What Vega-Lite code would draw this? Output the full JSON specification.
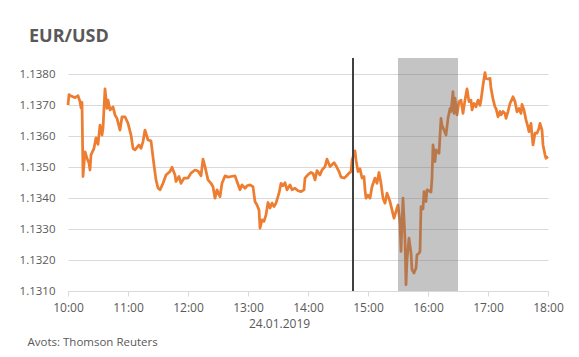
{
  "$schema": "https://vega.github.io/schema/vega-lite/v6.json",
  "width": 480,
  "height": 233,
  "autosize": {"type": "none"},
  "padding": {"left": 68, "top": 58, "right": 31, "bottom": 66},
  "background": "white",
  "config": {
    "font": "Open Sans",
    "view": {"stroke": null},
    "axis": {"labelColor": "#595959", "titleColor": "#595959"}
  },
  "title": {
    "text": "EUR/USD",
    "anchor": "start",
    "frame": "group",
    "dx": -39,
    "dy": 19,
    "offset": 16,
    "baseline": "alphabetic",
    "fontSize": 18,
    "fontWeight": "bold",
    "color": "#595959",
    "font": "Open Sans"
  },
  "datasets": {
    "eurusd": [
      {"time": "2019-01-24T10:00", "rate": 1.13701},
      {"time": "2019-01-24T10:01", "rate": 1.13735},
      {"time": "2019-01-24T10:03", "rate": 1.1373},
      {"time": "2019-01-24T10:07", "rate": 1.13725},
      {"time": "2019-01-24T10:10", "rate": 1.13731},
      {"time": "2019-01-24T10:12", "rate": 1.13712},
      {"time": "2019-01-24T10:13", "rate": 1.13692},
      {"time": "2019-01-24T10:14", "rate": 1.1371},
      {"time": "2019-01-24T10:15", "rate": 1.1347},
      {"time": "2019-01-24T10:17", "rate": 1.1355},
      {"time": "2019-01-24T10:19", "rate": 1.13529},
      {"time": "2019-01-24T10:21", "rate": 1.13513},
      {"time": "2019-01-24T10:22", "rate": 1.13491},
      {"time": "2019-01-24T10:23", "rate": 1.1354},
      {"time": "2019-01-24T10:26", "rate": 1.13561},
      {"time": "2019-01-24T10:28", "rate": 1.13595},
      {"time": "2019-01-24T10:30", "rate": 1.13574},
      {"time": "2019-01-24T10:32", "rate": 1.13636},
      {"time": "2019-01-24T10:34", "rate": 1.13604},
      {"time": "2019-01-24T10:35", "rate": 1.13626},
      {"time": "2019-01-24T10:37", "rate": 1.13753},
      {"time": "2019-01-24T10:39", "rate": 1.1369},
      {"time": "2019-01-24T10:40", "rate": 1.13717},
      {"time": "2019-01-24T10:42", "rate": 1.13685},
      {"time": "2019-01-24T10:45", "rate": 1.13695},
      {"time": "2019-01-24T10:47", "rate": 1.13669},
      {"time": "2019-01-24T10:49", "rate": 1.13658},
      {"time": "2019-01-24T10:52", "rate": 1.1362},
      {"time": "2019-01-24T10:54", "rate": 1.13663},
      {"time": "2019-01-24T10:57", "rate": 1.13663},
      {"time": "2019-01-24T11:00", "rate": 1.13642},
      {"time": "2019-01-24T11:03", "rate": 1.13604},
      {"time": "2019-01-24T11:05", "rate": 1.13561},
      {"time": "2019-01-24T11:07", "rate": 1.13556},
      {"time": "2019-01-24T11:11", "rate": 1.13572},
      {"time": "2019-01-24T11:13", "rate": 1.13561},
      {"time": "2019-01-24T11:15", "rate": 1.13583},
      {"time": "2019-01-24T11:17", "rate": 1.1362},
      {"time": "2019-01-24T11:20", "rate": 1.13588},
      {"time": "2019-01-24T11:23", "rate": 1.13585},
      {"time": "2019-01-24T11:26", "rate": 1.13507},
      {"time": "2019-01-24T11:28", "rate": 1.13459},
      {"time": "2019-01-24T11:30", "rate": 1.13433},
      {"time": "2019-01-24T11:32", "rate": 1.13427},
      {"time": "2019-01-24T11:35", "rate": 1.13448},
      {"time": "2019-01-24T11:38", "rate": 1.13475},
      {"time": "2019-01-24T11:42", "rate": 1.13486},
      {"time": "2019-01-24T11:44", "rate": 1.135},
      {"time": "2019-01-24T11:47", "rate": 1.13475},
      {"time": "2019-01-24T11:48", "rate": 1.13454},
      {"time": "2019-01-24T11:51", "rate": 1.1347},
      {"time": "2019-01-24T11:53", "rate": 1.13448},
      {"time": "2019-01-24T11:56", "rate": 1.13465},
      {"time": "2019-01-24T12:00", "rate": 1.13465},
      {"time": "2019-01-24T12:03", "rate": 1.13481},
      {"time": "2019-01-24T12:07", "rate": 1.13491},
      {"time": "2019-01-24T12:10", "rate": 1.13488},
      {"time": "2019-01-24T12:13", "rate": 1.13472},
      {"time": "2019-01-24T12:15", "rate": 1.13526},
      {"time": "2019-01-24T12:17", "rate": 1.13502},
      {"time": "2019-01-24T12:20", "rate": 1.13459},
      {"time": "2019-01-24T12:23", "rate": 1.13448},
      {"time": "2019-01-24T12:25", "rate": 1.13437},
      {"time": "2019-01-24T12:27", "rate": 1.134},
      {"time": "2019-01-24T12:29", "rate": 1.13427},
      {"time": "2019-01-24T12:32", "rate": 1.13405},
      {"time": "2019-01-24T12:34", "rate": 1.13448},
      {"time": "2019-01-24T12:37", "rate": 1.13472},
      {"time": "2019-01-24T12:40", "rate": 1.13468},
      {"time": "2019-01-24T12:43", "rate": 1.1347},
      {"time": "2019-01-24T12:47", "rate": 1.13472},
      {"time": "2019-01-24T12:49", "rate": 1.13454},
      {"time": "2019-01-24T12:52", "rate": 1.13427},
      {"time": "2019-01-24T12:54", "rate": 1.13443},
      {"time": "2019-01-24T12:57", "rate": 1.13432},
      {"time": "2019-01-24T12:59", "rate": 1.1344},
      {"time": "2019-01-24T13:02", "rate": 1.13443},
      {"time": "2019-01-24T13:05", "rate": 1.13437},
      {"time": "2019-01-24T13:07", "rate": 1.13389},
      {"time": "2019-01-24T13:09", "rate": 1.13378},
      {"time": "2019-01-24T13:11", "rate": 1.13362},
      {"time": "2019-01-24T13:12", "rate": 1.13303},
      {"time": "2019-01-24T13:14", "rate": 1.1333},
      {"time": "2019-01-24T13:16", "rate": 1.13325},
      {"time": "2019-01-24T13:18", "rate": 1.13346},
      {"time": "2019-01-24T13:20", "rate": 1.13386},
      {"time": "2019-01-24T13:22", "rate": 1.13368},
      {"time": "2019-01-24T13:24", "rate": 1.13384},
      {"time": "2019-01-24T13:26", "rate": 1.13373},
      {"time": "2019-01-24T13:28", "rate": 1.13384},
      {"time": "2019-01-24T13:31", "rate": 1.13416},
      {"time": "2019-01-24T13:33", "rate": 1.13448},
      {"time": "2019-01-24T13:35", "rate": 1.1344},
      {"time": "2019-01-24T13:37", "rate": 1.1345},
      {"time": "2019-01-24T13:39", "rate": 1.13427},
      {"time": "2019-01-24T13:42", "rate": 1.13443},
      {"time": "2019-01-24T13:44", "rate": 1.13427},
      {"time": "2019-01-24T13:47", "rate": 1.13432},
      {"time": "2019-01-24T13:50", "rate": 1.13424},
      {"time": "2019-01-24T13:53", "rate": 1.13421},
      {"time": "2019-01-24T13:56", "rate": 1.13427},
      {"time": "2019-01-24T13:57", "rate": 1.13465},
      {"time": "2019-01-24T14:00", "rate": 1.13476},
      {"time": "2019-01-24T14:03", "rate": 1.13483},
      {"time": "2019-01-24T14:05", "rate": 1.1348},
      {"time": "2019-01-24T14:07", "rate": 1.13459},
      {"time": "2019-01-24T14:09", "rate": 1.13489},
      {"time": "2019-01-24T14:12", "rate": 1.13475},
      {"time": "2019-01-24T14:14", "rate": 1.13491},
      {"time": "2019-01-24T14:17", "rate": 1.13502},
      {"time": "2019-01-24T14:19", "rate": 1.13526},
      {"time": "2019-01-24T14:22", "rate": 1.13502},
      {"time": "2019-01-24T14:24", "rate": 1.13508},
      {"time": "2019-01-24T14:26", "rate": 1.13515},
      {"time": "2019-01-24T14:28", "rate": 1.13505},
      {"time": "2019-01-24T14:31", "rate": 1.13486},
      {"time": "2019-01-24T14:33", "rate": 1.13468},
      {"time": "2019-01-24T14:36", "rate": 1.13465},
      {"time": "2019-01-24T14:38", "rate": 1.1347},
      {"time": "2019-01-24T14:41", "rate": 1.13481},
      {"time": "2019-01-24T14:43", "rate": 1.13486},
      {"time": "2019-01-24T14:44", "rate": 1.13523},
      {"time": "2019-01-24T14:47", "rate": 1.13553},
      {"time": "2019-01-24T14:48", "rate": 1.13523},
      {"time": "2019-01-24T14:50", "rate": 1.13486},
      {"time": "2019-01-24T14:52", "rate": 1.13495},
      {"time": "2019-01-24T14:54", "rate": 1.13465},
      {"time": "2019-01-24T14:56", "rate": 1.1347},
      {"time": "2019-01-24T14:57", "rate": 1.13427},
      {"time": "2019-01-24T14:58", "rate": 1.134},
      {"time": "2019-01-24T15:00", "rate": 1.1341},
      {"time": "2019-01-24T15:02", "rate": 1.134},
      {"time": "2019-01-24T15:04", "rate": 1.13437},
      {"time": "2019-01-24T15:07", "rate": 1.13465},
      {"time": "2019-01-24T15:09", "rate": 1.13448},
      {"time": "2019-01-24T15:11", "rate": 1.13483},
      {"time": "2019-01-24T15:13", "rate": 1.13448},
      {"time": "2019-01-24T15:15", "rate": 1.134},
      {"time": "2019-01-24T15:17", "rate": 1.13384},
      {"time": "2019-01-24T15:19", "rate": 1.13416},
      {"time": "2019-01-24T15:22", "rate": 1.13389},
      {"time": "2019-01-24T15:24", "rate": 1.13362},
      {"time": "2019-01-24T15:26", "rate": 1.13335},
      {"time": "2019-01-24T15:28", "rate": 1.13357},
      {"time": "2019-01-24T15:30", "rate": 1.13378},
      {"time": "2019-01-24T15:32", "rate": 1.13319},
      {"time": "2019-01-24T15:33", "rate": 1.13228},
      {"time": "2019-01-24T15:34", "rate": 1.13319},
      {"time": "2019-01-24T15:35", "rate": 1.134},
      {"time": "2019-01-24T15:37", "rate": 1.13266},
      {"time": "2019-01-24T15:38", "rate": 1.1312},
      {"time": "2019-01-24T15:39", "rate": 1.13201},
      {"time": "2019-01-24T15:41", "rate": 1.13271},
      {"time": "2019-01-24T15:43", "rate": 1.13223},
      {"time": "2019-01-24T15:44", "rate": 1.13169},
      {"time": "2019-01-24T15:46", "rate": 1.13158},
      {"time": "2019-01-24T15:48", "rate": 1.13174},
      {"time": "2019-01-24T15:49", "rate": 1.13217},
      {"time": "2019-01-24T15:51", "rate": 1.13222},
      {"time": "2019-01-24T15:52", "rate": 1.13228},
      {"time": "2019-01-24T15:53", "rate": 1.13373},
      {"time": "2019-01-24T15:55", "rate": 1.13365},
      {"time": "2019-01-24T15:56", "rate": 1.13421},
      {"time": "2019-01-24T15:58", "rate": 1.13389},
      {"time": "2019-01-24T15:59", "rate": 1.13427},
      {"time": "2019-01-24T16:03", "rate": 1.1342},
      {"time": "2019-01-24T16:04", "rate": 1.13465},
      {"time": "2019-01-24T16:05", "rate": 1.13572},
      {"time": "2019-01-24T16:07", "rate": 1.13518},
      {"time": "2019-01-24T16:08", "rate": 1.13556},
      {"time": "2019-01-24T16:11", "rate": 1.13545},
      {"time": "2019-01-24T16:13", "rate": 1.13658},
      {"time": "2019-01-24T16:14", "rate": 1.13636},
      {"time": "2019-01-24T16:16", "rate": 1.1362},
      {"time": "2019-01-24T16:18", "rate": 1.13604},
      {"time": "2019-01-24T16:20", "rate": 1.13658},
      {"time": "2019-01-24T16:22", "rate": 1.1369},
      {"time": "2019-01-24T16:23", "rate": 1.1368},
      {"time": "2019-01-24T16:25", "rate": 1.13744},
      {"time": "2019-01-24T16:26", "rate": 1.13674},
      {"time": "2019-01-24T16:27", "rate": 1.13723},
      {"time": "2019-01-24T16:29", "rate": 1.13669},
      {"time": "2019-01-24T16:31", "rate": 1.13712},
      {"time": "2019-01-24T16:33", "rate": 1.13717},
      {"time": "2019-01-24T16:35", "rate": 1.13674},
      {"time": "2019-01-24T16:37", "rate": 1.13717},
      {"time": "2019-01-24T16:39", "rate": 1.13753},
      {"time": "2019-01-24T16:41", "rate": 1.13712},
      {"time": "2019-01-24T16:43", "rate": 1.13717},
      {"time": "2019-01-24T16:44", "rate": 1.13685},
      {"time": "2019-01-24T16:46", "rate": 1.13706},
      {"time": "2019-01-24T16:48", "rate": 1.13695},
      {"time": "2019-01-24T16:50", "rate": 1.13717},
      {"time": "2019-01-24T16:52", "rate": 1.137},
      {"time": "2019-01-24T16:53", "rate": 1.13717},
      {"time": "2019-01-24T16:55", "rate": 1.13765},
      {"time": "2019-01-24T16:57", "rate": 1.13806},
      {"time": "2019-01-24T16:58", "rate": 1.13787},
      {"time": "2019-01-24T17:00", "rate": 1.13785},
      {"time": "2019-01-24T17:02", "rate": 1.13787},
      {"time": "2019-01-24T17:03", "rate": 1.13755},
      {"time": "2019-01-24T17:05", "rate": 1.1372},
      {"time": "2019-01-24T17:07", "rate": 1.13695},
      {"time": "2019-01-24T17:08", "rate": 1.1369},
      {"time": "2019-01-24T17:10", "rate": 1.13663},
      {"time": "2019-01-24T17:12", "rate": 1.1368},
      {"time": "2019-01-24T17:13", "rate": 1.13669},
      {"time": "2019-01-24T17:15", "rate": 1.1368},
      {"time": "2019-01-24T17:17", "rate": 1.13674},
      {"time": "2019-01-24T17:18", "rate": 1.13658},
      {"time": "2019-01-24T17:20", "rate": 1.1368},
      {"time": "2019-01-24T17:22", "rate": 1.13706},
      {"time": "2019-01-24T17:24", "rate": 1.1372},
      {"time": "2019-01-24T17:25", "rate": 1.13728},
      {"time": "2019-01-24T17:27", "rate": 1.13712},
      {"time": "2019-01-24T17:29", "rate": 1.13679},
      {"time": "2019-01-24T17:31", "rate": 1.1369},
      {"time": "2019-01-24T17:33", "rate": 1.13674},
      {"time": "2019-01-24T17:34", "rate": 1.13703},
      {"time": "2019-01-24T17:36", "rate": 1.13685},
      {"time": "2019-01-24T17:38", "rate": 1.13653},
      {"time": "2019-01-24T17:39", "rate": 1.13642},
      {"time": "2019-01-24T17:41", "rate": 1.13615},
      {"time": "2019-01-24T17:43", "rate": 1.13642},
      {"time": "2019-01-24T17:44", "rate": 1.13604},
      {"time": "2019-01-24T17:45", "rate": 1.13572},
      {"time": "2019-01-24T17:47", "rate": 1.1361},
      {"time": "2019-01-24T17:49", "rate": 1.1361},
      {"time": "2019-01-24T17:51", "rate": 1.13626},
      {"time": "2019-01-24T17:52", "rate": 1.13642},
      {"time": "2019-01-24T17:54", "rate": 1.1362},
      {"time": "2019-01-24T17:55", "rate": 1.13572},
      {"time": "2019-01-24T17:57", "rate": 1.1354},
      {"time": "2019-01-24T17:58", "rate": 1.13529},
      {"time": "2019-01-24T18:00", "rate": 1.13535}
    ],
    "highlight": [{"start": "2019-01-24T15:30", "end": "2019-01-24T16:30"}],
    "marker": [{"at": "2019-01-24T14:45"}]
  },
  "layer": [
    {
      "data": {"name": "eurusd"},
      "mark": {"type": "line", "color": "#ED7D31", "strokeWidth": 2.75, "strokeJoin": "round"},
      "encoding": {
        "x": {
          "field": "time",
          "type": "temporal",
          "scale": {"nice": false},
          "axis": {
            "format": "%H:%M",
            "tickCount": 8,
            "grid": false,
            "domainColor": "#D9D9D9",
            "tickColor": "#D9D9D9",
            "tickSize": 5,
            "labelFontSize": 12,
            "labelPadding": 6,
            "labelFlush": false,
            "title": "24.01.2019",
            "titleFontSize": 12,
            "titleFontWeight": "normal",
            "titleX": 211,
            "titleY": 36,
            "titleBaseline": "alphabetic"
          }
        },
        "y": {
          "field": "rate",
          "type": "quantitative",
          "scale": {"domain": [1.131, 1.13853], "nice": false, "zero": false},
          "axis": {
            "values": [1.131, 1.132, 1.133, 1.134, 1.135, 1.136, 1.137, 1.138],
            "format": ".4f",
            "grid": true,
            "gridColor": "#D9D9D9",
            "domain": false,
            "ticks": false,
            "labelFontSize": 11.5,
            "labelPadding": 13,
            "title": "Avots: Thomson Reuters",
            "titleAngle": 0,
            "titleAlign": "left",
            "titleBaseline": "alphabetic",
            "titleX": -41,
            "titleY": 287,
            "titleFontSize": 11.5,
            "titleFontWeight": "normal"
          }
        }
      }
    },
    {
      "data": {"name": "highlight"},
      "mark": {"type": "rect", "color": "#737373", "opacity": 0.42},
      "encoding": {
        "x": {"field": "start", "type": "temporal"},
        "x2": {"field": "end"}
      }
    },
    {
      "data": {"name": "marker"},
      "mark": {"type": "rule", "color": "#404040", "strokeWidth": 2},
      "encoding": {
        "x": {"field": "at", "type": "temporal"}
      }
    }
  ]
}
